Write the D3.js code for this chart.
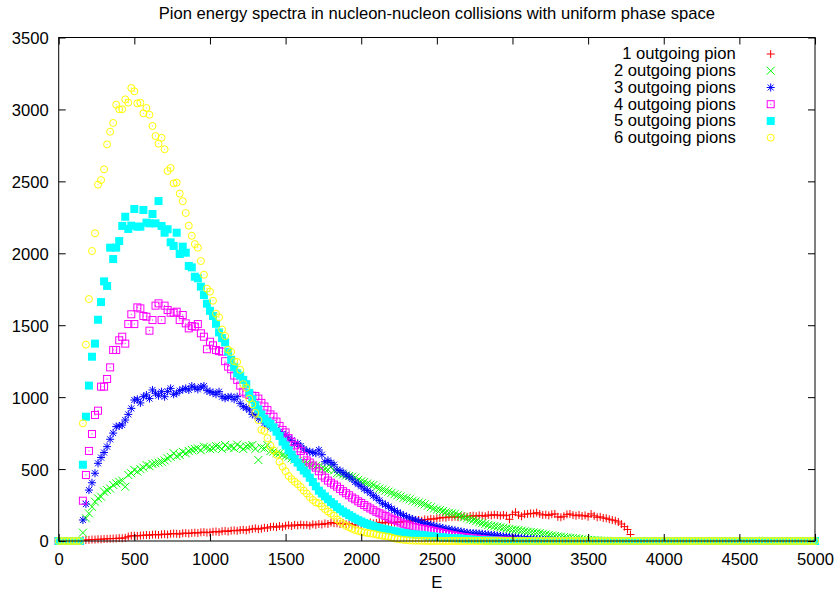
<!DOCTYPE html>
<html>
<head>
<meta charset="utf-8">
<script src="https://cdn.jsdelivr.net/npm/d3@7"></script>
<style>
  html, body { margin: 0; padding: 0; background: #fff; }
  svg { display: block; font-family: "Liberation Sans", Arial, Helvetica, sans-serif; }
</style>
</head>
<body>
<svg id="chart" width="834" height="591"></svg>
<script>
// Energy bins (E), 20 units wide, 0 .. 5000
const energies = [
  0,20,40,60,80,100,120,140,160,180,
  200,220,240,260,280,300,320,340,360,380,
  400,420,440,460,480,500,520,540,560,580,
  600,620,640,660,680,700,720,740,760,780,
  800,820,840,860,880,900,920,940,960,980,
  1000,1020,1040,1060,1080,1100,1120,1140,1160,1180,
  1200,1220,1240,1260,1280,1300,1320,1340,1360,1380,
  1400,1420,1440,1460,1480,1500,1520,1540,1560,1580,
  1600,1620,1640,1660,1680,1700,1720,1740,1760,1780,
  1800,1820,1840,1860,1880,1900,1920,1940,1960,1980,
  2000,2020,2040,2060,2080,2100,2120,2140,2160,2180,
  2200,2220,2240,2260,2280,2300,2320,2340,2360,2380,
  2400,2420,2440,2460,2480,2500,2520,2540,2560,2580,
  2600,2620,2640,2660,2680,2700,2720,2740,2760,2780,
  2800,2820,2840,2860,2880,2900,2920,2940,2960,2980,
  3000,3020,3040,3060,3080,3100,3120,3140,3160,3180,
  3200,3220,3240,3260,3280,3300,3320,3340,3360,3380,
  3400,3420,3440,3460,3480,3500,3520,3540,3560,3580,
  3600,3620,3640,3660,3680,3700,3720,3740,3760,3780,
  3800,3820,3840,3860,3880,3900,3920,3940,3960,3980,
  4000,4020,4040,4060,4080,4100,4120,4140,4160,4180,
  4200,4220,4240,4260,4280,4300,4320,4340,4360,4380,
  4400,4420,4440,4460,4480,4500,4520,4540,4560,4580,
  4600,4620,4640,4660,4680,4700,4720,4740,4760,4780,
  4800,4820,4840,4860,4880,4900,4920,4940,4960,4980,
  5000
];

// Counts per bin, one row per 200 units of E
const onePion = [
  0,0,0,0,0,0,0,0,5,7,
  8,10,10,12,12,14,15,16,17,18,
  20,19,22,30,36,37,35,38,40,42,
  40,44,45,42,46,48,45,50,52,50,
  48,54,55,52,56,58,55,60,62,58,
  60,64,66,62,68,70,66,72,74,71,
  76,78,74,80,84,88,82,86,92,90,
  98,100,96,104,98,106,110,104,112,108,
  114,110,112,106,116,112,118,115,122,118,
  128,124,123,118,124,116,120,112,111,120,
  114,118,124,128,122,126,130,125,128,132,
  125,128,134,130,136,134,140,138,144,146,
  142,150,148,154,152,158,160,164,162,168,
  166,169,165,170,172,168,174,176,172,178,
  176,172,181,178,183,180,176,181,176,151,
  185,200,180,172,186,188,192,190,197,188,
  181,183,178,186,188,168,165,172,185,188,
  180,176,181,174,178,169,188,175,165,168,
  160,158,151,146,141,132,118,100,80,45,
  0,0,0,0,0,0,0,0,0,0,
  0,0,0,0,0,0,0,0,0,0,
  0,0,0,0,0,0,0,0,0,0,
  0,0,0,0,0,0,0,0,0,0,
  0,0,0,0,0,0,0,0,0,0,
  0,0,0,0,0,0,0,0,0,0,
  0
];

const twoPions = [
  0,0,0,0,0,0,0,0,58,158,
  192,238,273,297,308,343,354,365,390,401,
  412,420,377,459,471,494,482,500,510,528,
  520,535,540,545,551,560,575,585,610,590,
  598,620,610,625,633,640,644,630,656,650,
  640,644,660,656,640,667,650,656,645,670,
  656,640,656,660,667,640,563,650,644,667,
  625,621,610,610,598,590,586,575,565,555,
  548,540,540,530,525,520,518,505,500,496,
  516,490,471,470,462,455,452,447,440,425,
  415,410,400,392,389,375,365,358,350,343,
  335,325,318,310,300,297,290,280,275,268,
  262,255,245,235,225,218,215,208,200,196,
  193,190,180,172,165,158,150,146,138,130,
  124,118,111,106,103,100,96,92,88,84,
  80,78,76,72,68,64,62,60,58,55,
  50,46,42,38,35,32,30,27,24,22,
  20,18,15,12,10,8,6,5,4,3,
  2,1,0,0,0,0,0,0,0,0,
  0,0,0,0,0,0,0,0,0,0,
  0,0,0,0,0,0,0,0,0,0,
  0,0,0,0,0,0,0,0,0,0,
  0,0,0,0,0,0,0,0,0,0,
  0,0,0,0,0,0,0,0,0,0,
  0,0,0,0,0,0,0,0,0,0,
  0
];

const threePions = [
  0,0,0,0,0,0,0,0,146,257,
  354,405,471,540,580,615,656,707,750,795,
  800,806,841,880,922,980,985,960,1003,1015,
  990,1050,1027,1010,1038,1003,1040,1061,1020,1027,
  1045,1054,1061,1050,1077,1065,1054,1072,1077,1045,
  1038,1031,1020,1038,1003,992,1000,1003,985,1003,
  957,934,925,911,880,876,850,853,820,806,
  790,783,775,760,745,737,715,700,670,679,
  660,640,625,621,615,610,633,600,551,560,
  545,530,494,490,475,460,447,430,410,395,
  380,362,350,335,315,300,282,262,252,240,
  225,212,200,188,178,168,160,152,146,138,
  130,123,117,112,106,100,96,90,86,82,
  78,74,70,66,62,58,56,55,54,52,
  50,47,45,43,41,38,35,32,30,28,
  26,24,22,20,18,16,15,13,12,11,
  9,8,6,5,4,3,2,2,1,1,
  0,0,0,0,0,0,0,0,0,0,
  0,0,0,0,0,0,0,0,0,0,
  0,0,0,0,0,0,0,0,0,0,
  0,0,0,0,0,0,0,0,0,0,
  0,0,0,0,0,0,0,0,0,0,
  0,0,0,0,0,0,0,0,0,0,
  0,0,0,0,0,0,0,0,0,0,
  0,0,0,0,0,0,0,0,0,0,
  0
];

const fourPions = [
  0,0,0,0,0,0,0,0,280,459,
  626,744,876,906,1073,1073,1126,1207,1328,1328,
  1395,1420,1372,1508,1576,1508,1624,1617,1564,1559,
  1462,1536,1636,1652,1536,1636,1606,1587,1587,1594,
  1536,1571,1513,1478,1494,1490,1508,1444,1420,1333,
  1385,1360,1328,1320,1316,1250,1212,1194,1150,1120,
  1080,1038,1025,1015,1010,1008,990,960,935,910,
  880,864,830,800,772,755,715,690,665,644,
  625,590,560,545,525,510,485,455,440,420,
  405,392,378,362,346,332,318,302,290,276,
  264,250,238,226,214,203,193,184,174,164,
  155,147,138,128,120,113,106,100,95,90,
  86,82,78,74,70,65,60,55,50,46,
  42,38,34,30,27,24,21,18,16,14,
  12,10,8,7,6,5,4,3,2,2,
  1,1,0,0,0,0,0,0,0,0,
  0,0,0,0,0,0,0,0,0,0,
  0,0,0,0,0,0,0,0,0,0,
  0,0,0,0,0,0,0,0,0,0,
  0,0,0,0,0,0,0,0,0,0,
  0,0,0,0,0,0,0,0,0,0,
  0,0,0,0,0,0,0,0,0,0,
  0,0,0,0,0,0,0,0,0,0,
  0,0,0,0,0,0,0,0,0,0,
  0,0,0,0,0,0,0,0,0,0,
  0
];

const fivePions = [
  0,0,0,0,0,0,0,0,530,864,
  1080,1281,1372,1538,1661,1805,1773,2039,1960,2039,
  2085,2190,2254,2169,2192,2308,2185,2185,2301,2213,
  2208,2273,2208,2363,2190,2143,2167,2076,2051,2143,
  1995,2046,2004,1912,1902,1837,1826,1768,1710,1650,
  1600,1564,1510,1450,1410,1380,1316,1260,1210,1166,
  1150,1120,1090,1030,985,945,915,880,850,830,
  815,790,760,730,690,665,630,600,570,545,
  515,490,470,440,410,380,350,330,310,290,
  270,255,235,220,205,193,180,168,156,145,
  135,126,118,110,103,97,91,86,81,76,
  72,68,64,60,56,53,50,47,45,43,
  42,39,36,33,31,29,27,25,23,21,
  20,19,18,16,14,12,10,9,7,6,
  5,4,3,2,2,1,1,0,0,0,
  0,0,0,0,0,0,0,0,0,0,
  0,0,0,0,0,0,0,0,0,0,
  0,0,0,0,0,0,0,0,0,0,
  0,0,0,0,0,0,0,0,0,0,
  0,0,0,0,0,0,0,0,0,0,
  0,0,0,0,0,0,0,0,0,0,
  0,0,0,0,0,0,0,0,0,0,
  0,0,0,0,0,0,0,0,0,0,
  0,0,0,0,0,0,0,0,0,0,
  0,0,0,0,0,0,0,0,0,0,
  0
];

const sixPions = [
  0,0,0,0,0,0,0,0,818,1365,
  1682,2016,2139,2477,2509,2584,2757,2845,2906,3033,
  3001,3001,3070,3047,3149,3126,3042,3047,2973,3010,
  2963,2885,2815,2762,2803,2723,2572,2593,2486,2491,
  2415,2362,2280,2192,2122,2064,2039,1946,1851,1754,
  1733,1670,1580,1555,1470,1425,1330,1315,1250,1245,
  1190,1090,1065,990,950,890,840,772,765,715,
  662,630,600,550,516,485,452,430,412,395,
  375,350,330,305,285,268,262,240,222,205,
  190,175,150,134,118,105,95,85,76,70,
  64,60,56,53,50,45,40,36,33,30,
  24,18,14,11,8,6,4,3,2,2,
  1,1,0,0,0,0,0,0,0,0,
  0,0,0,0,0,0,0,0,0,0,
  0,0,0,0,0,0,0,0,0,0,
  0,0,0,0,0,0,0,0,0,0,
  0,0,0,0,0,0,0,0,0,0,
  0,0,0,0,0,0,0,0,0,0,
  0,0,0,0,0,0,0,0,0,0,
  0,0,0,0,0,0,0,0,0,0,
  0,0,0,0,0,0,0,0,0,0,
  0,0,0,0,0,0,0,0,0,0,
  0,0,0,0,0,0,0,0,0,0,
  0,0,0,0,0,0,0,0,0,0,
  0,0,0,0,0,0,0,0,0,0,
  0
];

const seriesLabels = [
  "1 outgoing pion", "2 outgoing pions", "3 outgoing pions",
  "4 outgoing pions", "5 outgoing pions", "6 outgoing pions"
];
const xTicks = [0, 500, 1000, 1500, 2000, 2500, 3000, 3500, 4000, 4500, 5000];
const yTicks = [0, 500, 1000, 1500, 2000, 2500, 3000, 3500];
const titleText = "Pion energy spectra in nucleon-nucleon collisions with uniform phase space";
const xLabel = "E";

// ---- layout & styles ----
const plot = { left: 58.7, right: 815, top: 37.5, bottom: 541 };
const FONT = 16.6;
const TICK = 7;
const styles = [
  { color: "#ff0000", marker: "plus" },
  { color: "#00ff00", marker: "cross" },
  { color: "#0000ff", marker: "star" },
  { color: "#ff00ff", marker: "box" },
  { color: "#00ffff", marker: "filledBox" },
  { color: "#ffff00", marker: "circle" }
];
const seriesValues = [onePion, twoPions, threePions, fourPions, fivePions, sixPions];

const svg = d3.select("#chart");
svg.append("rect").attr("width", 834).attr("height", 591).attr("fill", "#fff");

const x = d3.scaleLinear().domain([0, 5000]).range([plot.left, plot.right]);
const y = d3.scaleLinear().domain([0, 3500]).range([plot.bottom, plot.top]);

// point symbols, half-size 4 px
function drawMarker(g, kind, color) {
  const s = 4;
  if (kind === "plus") {
    g.append("path").attr("d", `M${-s},0H${s}M0,${-s}V${s}`)
      .attr("stroke", color).attr("fill", "none");
  } else if (kind === "cross") {
    g.append("path").attr("d", `M${-s},${-s}L${s},${s}M${-s},${s}L${s},${-s}`)
      .attr("stroke", color).attr("fill", "none");
  } else if (kind === "star") {
    g.append("path").attr("d", `M${-s},0H${s}M0,${-s}V${s}M-3,-3L3,3M-3,3L3,-3`)
      .attr("stroke", color).attr("fill", "none");
  } else if (kind === "box") {
    g.append("rect").attr("x", -s + 0.5).attr("y", -s + 0.5)
      .attr("width", 2 * s - 1).attr("height", 2 * s - 1)
      .attr("stroke", color).attr("fill", "none");
    g.append("rect").attr("x", -0.5).attr("y", -0.5).attr("width", 1).attr("height", 1)
      .attr("fill", color);
  } else if (kind === "filledBox") {
    g.append("rect").attr("x", -s).attr("y", -s)
      .attr("width", 2 * s).attr("height", 2 * s).attr("fill", color);
  } else if (kind === "circle") {
    g.append("circle").attr("r", s - 0.5)
      .attr("stroke", color).attr("fill", "none");
    g.append("rect").attr("x", -0.5).attr("y", -0.5).attr("width", 1).attr("height", 1)
      .attr("fill", color);
  }
}

// ---- data points ----
const pointsLayer = svg.append("g").attr("stroke-width", 1);
seriesValues.forEach((vals, si) => {
  const st = styles[si];
  const pts = energies.map((e, i) => ({ e, v: vals[i] })).filter(d => d.v !== undefined);
  pointsLayer.append("g")
    .selectAll("g")
    .data(pts)
    .join("g")
    .attr("transform", d => `translate(${x(d.e)},${y(d.v)})`)
    .each(function () { drawMarker(d3.select(this), st.marker, st.color); });
});

// ---- axes (ticks drawn inward, mirrored on top/right) ----
function styleAxis(g) {
  g.attr("font-size", FONT).attr("font-family", null);
  g.select(".domain").remove();
  g.selectAll(".tick line").attr("stroke", "#000");
  g.selectAll(".tick text").attr("fill", "#000");
}

const xAxis = svg.append("g")
  .attr("transform", `translate(0,${plot.bottom})`)
  .call(d3.axisBottom(x).tickValues(xTicks).tickSizeInner(-TICK).tickSizeOuter(0).tickFormat(d3.format("d")))
  .call(styleAxis);
xAxis.selectAll(".tick text").attr("y", 24).attr("dy", null);

svg.append("g")
  .attr("transform", `translate(0,${plot.top})`)
  .call(d3.axisTop(x).tickValues(xTicks).tickSizeInner(-TICK).tickSizeOuter(0).tickFormat(() => ""))
  .call(styleAxis);

const yAxis = svg.append("g")
  .attr("transform", `translate(${plot.left},0)`)
  .call(d3.axisLeft(y).tickValues(yTicks).tickSizeInner(-TICK).tickSizeOuter(0).tickPadding(10).tickFormat(d3.format("d")))
  .call(styleAxis);
yAxis.selectAll(".tick text").attr("dy", "0.36em");

svg.append("g")
  .attr("transform", `translate(${plot.right},0)`)
  .call(d3.axisRight(y).tickValues(yTicks).tickSizeInner(-TICK).tickSizeOuter(0).tickFormat(() => ""))
  .call(styleAxis);

// plot border
svg.append("rect")
  .attr("x", plot.left).attr("y", plot.top)
  .attr("width", plot.right - plot.left).attr("height", plot.bottom - plot.top)
  .attr("fill", "none").attr("stroke", "#000").attr("stroke-width", 1);

// ---- title and axis label ----
svg.append("text")
  .attr("x", (plot.left + plot.right) / 2).attr("y", 18.5)
  .attr("text-anchor", "middle").attr("font-size", FONT).attr("fill", "#000")
  .text(titleText);

svg.append("text")
  .attr("x", (plot.left + plot.right) / 2).attr("y", 588)
  .attr("text-anchor", "middle").attr("font-size", FONT).attr("fill", "#000")
  .text(xLabel);

// ---- key ----
const key = svg.append("g").attr("stroke-width", 1);
seriesLabels.forEach((label, i) => {
  const rowY = 54 + i * 16.74;
  key.append("text")
    .attr("x", 735.7).attr("y", rowY + 5.4)
    .attr("text-anchor", "end").attr("font-size", FONT).attr("fill", "#000")
    .text(label);
  const m = key.append("g").attr("transform", `translate(770.7,${rowY})`);
  drawMarker(m, styles[i].marker, styles[i].color);
});
</script>
</body>
</html>
